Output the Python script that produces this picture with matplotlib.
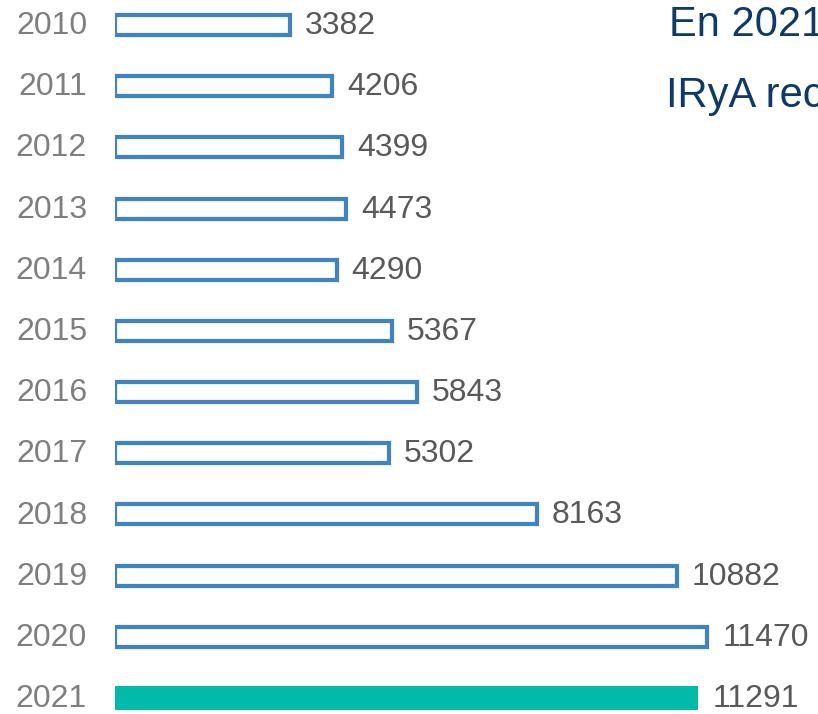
import matplotlib
matplotlib.use("Agg")
import matplotlib.pyplot as plt

years = ["2010", "2011", "2012", "2013", "2014", "2015", "2016", "2017", "2018", "2019", "2020", "2021"]
values = [3382, 4206, 4399, 4473, 4290, 5367, 5843, 5302, 8163, 10882, 11470, 11291]
title_lines = ["En 2021 los investigadores del", "IRyA recibieron"]

W, H = 818, 714
fig = plt.figure(figsize=(W / 100, H / 100), dpi=100)
x0_px = 115
ax = fig.add_axes([x0_px / W, 0, 1 - x0_px / W, 1])

scale = 0.05165  # px per unit
ax.set_xlim(0, (W - x0_px) / scale)
row_px = 61.2
ax.set_ylim(11 + (H - 698) / row_px, -25 / row_px)
ax.axis("off")

blue = "#3d84c6"
teal = "#00bba7"
lw_pt = 4.2 * 72 / 100
n = len(years)
for i, (y, v) in enumerate(zip(years, values)):
    if i < n - 1:
        ax.barh(i, v, height=20 / row_px, left=0, facecolor="white",
                edgecolor=blue, linewidth=lw_pt)
        off = 2 + 13
    else:
        ax.barh(i, v, height=24 / row_px, left=0, facecolor=teal, edgecolor="none")
        off = 14
    ax.annotate(str(v), xy=(v, i), xytext=(off, -1),
                textcoords="offset pixels", va="center", ha="left",
                fontsize=23, color="#595959", family="Liberation Sans")
    fig.text(87 / W, 1 - (26 + i * row_px) / H, y, ha="right", va="center",
             fontsize=23, color="#7f7f7f", family="Liberation Sans")

fig.text(669 / W, 1 - 36 / H, title_lines[0], ha="left", va="baseline",
         fontsize=30, color="#0c3a6a", family="Liberation Sans")
fig.text(666 / W, 1 - 107 / H, title_lines[1], ha="left", va="baseline",
         fontsize=30, color="#0c3a6a", family="Liberation Sans")

fig.savefig("out.png", dpi=100)
